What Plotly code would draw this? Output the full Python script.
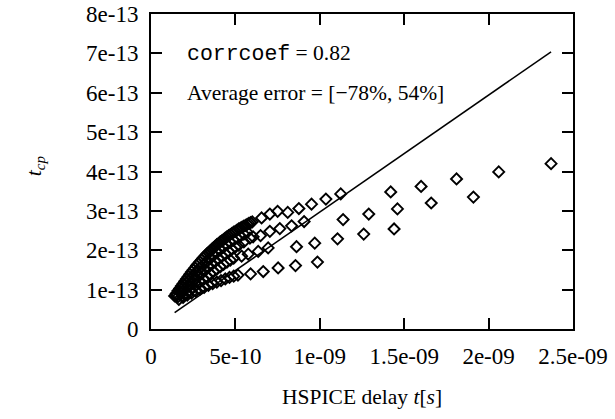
import plotly.graph_objects as go

# values: x in units of 1e-9 s, y in units of 1e-13 s
row1_x = [0.14,0.15,0.16,0.17,0.18,0.19,0.20,0.21,0.22,0.23,0.24,0.25,0.26,0.27,0.28,0.29,0.30,0.31,0.32,0.33,0.34,0.35,0.36,0.37,0.38,0.39,0.40,0.41,0.42,0.43,0.44,0.45,0.46,0.47,0.48,0.49,0.50,0.51,0.52,0.53,0.54,0.55,0.56,0.57,0.58,0.59,0.60,
          0.655,0.704,0.75,0.81,0.876,0.951,1.036,1.124]
row1_y = [0.84,0.90,0.97,1.03,1.09,1.15,1.21,1.27,1.33,1.39,1.45,1.50,1.55,1.61,1.66,1.71,1.76,1.81,1.85,1.90,1.94,1.98,2.02,2.06,2.10,2.14,2.17,2.21,2.24,2.27,2.31,2.34,2.37,2.40,2.43,2.46,2.48,2.51,2.54,2.56,2.59,2.61,2.63,2.66,2.68,2.70,2.72,
          2.82,2.92,2.99,2.96,3.06,3.17,3.30,3.43]
row1b_x = [0.15,0.17,0.19,0.21,0.23,0.25,0.27,0.29,0.31,0.33,0.35,0.37,0.39,0.41,0.43,0.45,0.47,0.49,0.51,0.53,0.55,0.57]
row1b_y = [0.84,0.95,1.05,1.16,1.26,1.36,1.45,1.54,1.63,1.71,1.79,1.87,1.94,2.01,2.08,2.14,2.20,2.26,2.31,2.36,2.41,2.46]
row2_x = [0.16,0.18,0.20,0.22,0.24,0.26,0.28,0.30,0.32,0.34,0.36,0.38,0.40,0.42,0.44,0.46,0.48,0.50,0.52,0.55,0.586,0.605,0.649,0.704,0.763,0.833,0.907,1.138,1.29,1.46,1.66,1.91]
row2_y = [0.82,0.91,1.00,1.09,1.17,1.25,1.33,1.41,1.49,1.57,1.64,1.71,1.78,1.85,1.91,1.97,2.03,2.08,2.13,2.21,2.31,2.34,2.37,2.48,2.55,2.62,2.73,2.78,2.92,3.05,3.20,3.35]
row3_x = [0.19,0.21,0.23,0.25,0.27,0.29,0.31,0.33,0.35,0.37,0.39,0.41,0.43,0.45,0.47,0.49,0.537,0.576,0.635,0.694,0.862,0.97,1.105,1.26,1.44]
row3_y = [0.84,0.91,0.98,1.05,1.12,1.19,1.26,1.33,1.40,1.46,1.52,1.58,1.64,1.70,1.75,1.80,1.85,1.90,1.97,2.06,2.09,2.18,2.29,2.41,2.54]
row4_x = [0.165,0.19,0.215,0.24,0.265,0.29,0.315,0.34,0.365,0.39,0.415,0.44,0.465,0.49,0.515,0.59,0.665,0.753,0.856,0.986]
row4_y = [0.75,0.80,0.86,0.91,0.96,1.01,1.06,1.11,1.15,1.19,1.23,1.27,1.31,1.34,1.37,1.40,1.46,1.55,1.61,1.70]
row5_x = [1.42,1.60,1.81,2.06,2.37]
row5_y = [3.48,3.62,3.81,3.99,4.20]

fit_slope = 2.97e-4  # t_cp per second of HSPICE delay

x_ticks = [0, 5e-10, 1e-9, 1.5e-9, 2e-9, 2.5e-9]
x_tick_labels = ["0", "5e-10", "1e-09", "1.5e-09", "2e-09", "2.5e-09"]
y_ticks = [0, 1e-13, 2e-13, 3e-13, 4e-13, 5e-13, 6e-13, 7e-13, 8e-13]
y_tick_labels = ["0", "1e-13", "2e-13", "3e-13", "4e-13", "5e-13", "6e-13", "7e-13", "8e-13"]

all_x = row1_x + row1b_x + row2_x + row3_x + row4_x + row5_x
all_y = row1_y + row1b_y + row2_y + row3_y + row4_y + row5_y
xs = [v * 1e-9 for v in all_x]
ys = [v * 1e-13 for v in all_y]

SERIF = "Liberation Serif"
FS_TICK = 23
FS_TEXT = 21.5

fig = go.Figure()
fig.add_trace(go.Scatter(
    x=xs, y=ys, mode="markers",
    marker=dict(symbol="diamond-open", size=8.5, color="black", line=dict(width=1.9, color="black")),
    showlegend=False,
))
xmin, xmax = min(xs), max(xs)
fig.add_trace(go.Scatter(
    x=[xmin, xmax], y=[fit_slope * xmin, fit_slope * xmax], mode="lines",
    line=dict(color="black", width=1.5), showlegend=False,
))

tick_font = dict(family=SERIF, size=FS_TICK, color="black")
axis_common = dict(
    showgrid=False, zeroline=False, showline=True, linecolor="black", linewidth=2,
    mirror="ticks", ticks="inside", ticklen=11, tickwidth=1.5, tickcolor="black",
    automargin=False, tickmode="array",
)
fig.update_layout(
    xaxis=dict(range=[0, 2.5e-9], tickvals=x_ticks, ticktext=x_tick_labels,
               tickfont=tick_font, ticklabelstandoff=5, **axis_common),
    yaxis=dict(range=[0, 8e-13], tickvals=y_ticks, ticktext=y_tick_labels,
               tickfont=tick_font, ticklabelstandoff=6, **axis_common),
)

fig.add_annotation(x=0.2e-9, y=7e-13, xref="x", yref="y", xanchor="left", yanchor="middle",
                   showarrow=False,
                   text='<span style="font-family:Liberation Mono">corrcoef</span> = 0.82',
                   font=dict(family=SERIF, size=FS_TEXT, color="black"))
fig.add_annotation(x=0.2e-9, y=6e-13, xref="x", yref="y", xanchor="left", yanchor="middle",
                   showarrow=False,
                   text="Average error = [\u221278%, 54%]",
                   font=dict(family=SERIF, size=FS_TEXT, color="black"))
fig.add_annotation(x=-0.275, y=0.52, xref="paper", yref="paper", textangle=-90,
                   showarrow=False, xanchor="center", yanchor="middle",
                   text="<i>t</i><sub><i>cp</i></sub>",
                   font=dict(family=SERIF, size=FS_TEXT, color="black"))
fig.add_annotation(x=0.5, y=-0.215, xref="paper", yref="paper",
                   showarrow=False, xanchor="center", yanchor="middle",
                   text="HSPICE delay <i>t</i>[<i>s</i>]",
                   font=dict(family=SERIF, size=FS_TEXT, color="black"))

fig.update_layout(
    width=615, height=419,
    font=dict(family=SERIF, size=FS_TICK, color="black"),
    margin=dict(l=151, r=42, t=14, b=90, autoexpand=False),
    plot_bgcolor="white", paper_bgcolor="white",
)
fig.write_html("out.html", config={"displayModeBar": False},
               post_script="document.body.style.margin='0px';document.body.style.overflow='hidden';")
